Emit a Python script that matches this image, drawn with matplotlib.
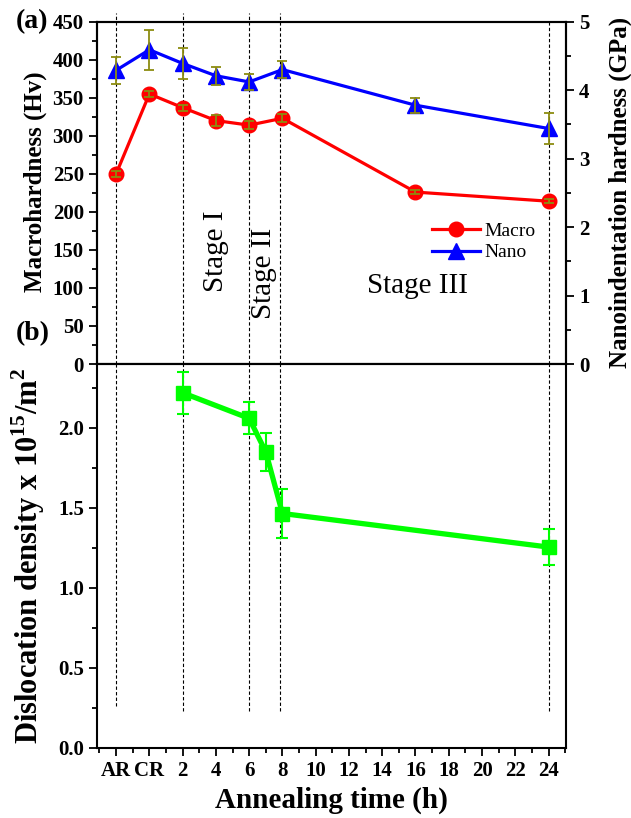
import numpy as np
import matplotlib
matplotlib.use("Agg")
import matplotlib.pyplot as plt
from matplotlib.ticker import MultipleLocator, FormatStrFormatter

plt.rcParams['font.family'] = ['Liberation Serif', 'DejaVu Serif']
plt.rcParams['font.weight'] = 'bold'
plt.rcParams['axes.labelweight'] = 'bold'
plt.rcParams['mathtext.fontset'] = 'custom'
plt.rcParams['mathtext.rm'] = 'Liberation Serif'
plt.rcParams['mathtext.bf'] = 'Liberation Serif:bold'

# x positions: AR = -2, CR = 0, then annealing hours
hard_x = [-2, 0, 2, 4, 6, 8, 16, 24]
macro_hv = [250, 355, 337, 320, 314, 323, 226, 214]
macro_err = [4, 4.5, 4, 7, 5, 5, 3, 3]
nano_gpa = [4.29, 4.59, 4.39, 4.21, 4.12, 4.30, 3.78, 3.44]
nano_err = [0.20, 0.29, 0.23, 0.13, 0.12, 0.12, 0.11, 0.22]

disl_x = [2, 6, 7, 8, 24]
disl_rho = [2.22, 2.06, 1.85, 1.465, 1.255]
disl_err = [0.13, 0.10, 0.12, 0.155, 0.11]

tick_pos = [-2, 0] + list(range(2, 25, 2))
tick_lab = ['AR', 'CR'] + [str(v) for v in range(2, 25, 2)]

guide_x = [-2, 2, 6, 7.85, 24]
guide_top = [1.026, 1.026, 1.026, 1.026, 1.0]
guide_bot = [0.26, 0.227, 0.227, 0.227, 0.227]

ERR_COL = '#8c8c10'
TICK_FS = 15

fig = plt.figure(figsize=(6.31, 8.18), dpi=100)
left, width = 97 / 631, 469 / 631
ax1 = fig.add_axes([left, 0.555, width, 0.9735 - 0.555])
ax3 = fig.add_axes([left, 0.0859, width, 0.555 - 0.0859])
ax2 = ax1.twinx()

for ax in (ax1, ax3):
    ax.set_xlim(-3.15, 25.05)
    ax.set_xticks(tick_pos)
    ax.xaxis.set_minor_locator(MultipleLocator(1))
    for s in ax.spines.values():
        s.set_linewidth(1.5)
for s in ax2.spines.values():
    s.set_linewidth(1.5)

# top panel
ax1.set_ylim(0, 450)
ax1.yaxis.set_major_locator(MultipleLocator(50))
ax1.yaxis.set_minor_locator(MultipleLocator(25))
ax2.set_ylim(0, 5)
ax2.yaxis.set_major_locator(MultipleLocator(1))
ax2.yaxis.set_minor_locator(MultipleLocator(0.5))

l1, = ax1.plot(hard_x, macro_hv, '-o', color='red', lw=2.3, ms=10.5, label='Macro', zorder=3)
ax1.errorbar(hard_x, macro_hv, yerr=macro_err, fmt='none', ecolor=ERR_COL,
             elinewidth=1.3, capsize=3.5, capthick=1.3, zorder=4)
l2, = ax2.plot(hard_x, nano_gpa, '-^', color='blue', lw=2.3, ms=12, label='Nano', zorder=3)
ax2.errorbar(hard_x, nano_gpa, yerr=nano_err, fmt='none', ecolor=ERR_COL,
             elinewidth=1.3, capsize=3.5, capthick=1.3, zorder=4)

ax1.tick_params(axis='both', which='both', direction='out', labelsize=TICK_FS, width=1.3)
ax1.tick_params(which='major', length=6)
ax1.tick_params(which='minor', length=3.5)
ax1.tick_params(axis='x', labelbottom=False)
ax2.tick_params(axis='y', which='both', direction='out', labelsize=TICK_FS, width=1.3)
ax2.tick_params(which='major', length=6)
ax2.tick_params(which='minor', length=3.5)

ax1.set_ylabel('Macrohardness (Hv)', fontsize=18)
ax1.yaxis.set_label_coords(-0.107, 0.534)
ax2.set_ylabel('Nanoindentation hardness (GPa)', fontsize=18)
ax2.yaxis.set_label_coords(1.09, 0.5)

ax2.legend(handles=[l1, l2], loc='center', bbox_to_anchor=(0.824, 0.357), frameon=False,
           prop={'family': 'Liberation Serif', 'weight': 'normal', 'size': 14},
           handlelength=2.5, handletextpad=0.2, labelspacing=0.2, borderpad=0)

ax1.text(4.0, 148, 'Stage I', rotation=90, ha='center', va='center', fontsize=21, fontweight='normal')
ax1.text(6.9, 119, 'Stage II', rotation=90, ha='center', va='center', fontsize=21, fontweight='normal')
ax1.text(16.1, 103, 'Stage III', ha='center', va='center', fontsize=21, fontweight='normal')

# bottom panel
ax3.set_ylim(0, 2.4)
ax3.yaxis.set_major_locator(MultipleLocator(0.5))
ax3.yaxis.set_minor_locator(MultipleLocator(0.25))
ax3.yaxis.set_major_formatter(FormatStrFormatter('%.1f'))
ax3.set_xticklabels(tick_lab)
ax3.tick_params(axis='both', which='both', direction='out', labelsize=TICK_FS, width=1.3)
ax3.tick_params(which='major', length=6)
ax3.tick_params(which='minor', length=3.5)

ax3.plot(disl_x, disl_rho, '-s', color='#00ff00', lw=3.8, ms=10, zorder=3)
ax3.errorbar(disl_x, disl_rho, yerr=disl_err, fmt='none', ecolor='#00ff00',
             elinewidth=1.5, capsize=4, capthick=1.5, zorder=4)

ax3.set_ylabel('Dislocation density x 10$^{\\mathbf{15}}$/m$^{\\mathbf{2}}$', fontsize=22)
ax3.yaxis.set_label_coords(-0.107, 0.5)
ax3.set_xlabel('Annealing time (h)', fontsize=21, labelpad=4)

# dashed guide lines through both panels
for gx, gt, gb in zip(guide_x, guide_top, guide_bot):
    ax1.axvline(gx, ymin=0, ymax=gt, color='black', ls=(0, (3, 2)), lw=0.8, clip_on=False, zorder=1)
    ax3.axvline(gx, ymin=gb / 2.4, ymax=1, color='black', ls=(0, (3, 2)), lw=0.8, zorder=1)

fig.text(32 / 631, 1 - 22 / 818, '(a)', fontsize=20, ha='center', va='center')
fig.text(33 / 631, 1 - 334 / 818, '(b)', fontsize=20, ha='center', va='center')

fig.savefig('out.png', dpi=100)
